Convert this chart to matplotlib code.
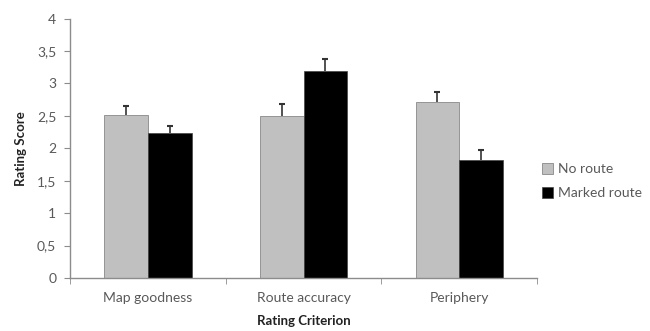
import matplotlib
matplotlib.use("Agg")
import matplotlib.pyplot as plt
import numpy as np

# data
categories = ["Map goodness", "Route accuracy", "Periphery"]
no_route = [2.52, 2.49, 2.72]
no_route_err = [0.13, 0.20, 0.15]
marked_route = [2.23, 3.19, 1.82]
marked_route_err = [0.12, 0.18, 0.15]
y_ticks = [0, 0.5, 1, 1.5, 2, 2.5, 3, 3.5, 4]
y_tick_labels = ["0", "0,5", "1", "1,5", "2", "2,5", "3", "3,5", "4"]

plt.rcParams['font.family'] = ['Lato', 'DejaVu Sans']

fig = plt.figure(figsize=(6.5, 3.31), dpi=100)
ax = fig.add_axes([0.108, 0.16, 0.718, 0.784])

x = np.arange(len(categories))
w = 0.28
spine_col = "#8c8c8c"
text_col = "#595959"

ax.bar(x - w / 2, no_route, w, color="#c0c0c0", edgecolor="#777777",
       linewidth=0.5, label="No route", zorder=2)
ax.bar(x + w / 2, marked_route, w, color="black", edgecolor="#444444",
       linewidth=0.5, label="Marked route", zorder=2)

# upper error bars only
for xs, vals, errs in [(x - w / 2, no_route, no_route_err),
                       (x + w / 2, marked_route, marked_route_err)]:
    _, caps, _ = ax.errorbar(xs, vals, yerr=[np.zeros(3), errs], fmt="none",
                             ecolor="#333333", elinewidth=1.2, capsize=2.5,
                             capthick=1.5, zorder=3)
    caps[0].set_visible(False)

ax.set_xlim(-0.5, 2.5)
ax.set_ylim(0, 4)
ax.set_yticks(y_ticks)
ax.set_yticklabels(y_tick_labels)
ax.set_xticks(x)
ax.set_xticklabels(categories)
ax.set_xticks([-0.5, 0.5, 1.5, 2.5], minor=True)

for s in ["top", "right"]:
    ax.spines[s].set_visible(False)
for s in ["left", "bottom"]:
    ax.spines[s].set_color(spine_col)
    ax.spines[s].set_linewidth(1)

ax.tick_params(axis="y", colors=spine_col, labelcolor=text_col, labelsize=10,
               length=4, direction="out", pad=6)
ax.tick_params(axis="x", which="major", length=0, labelcolor=text_col,
               labelsize=10, pad=10)
ax.tick_params(axis="x", which="minor", length=4, color=spine_col, direction="out")

ax.set_ylabel("Rating Score", fontsize=9.5, fontweight="bold", color="#222222",
              labelpad=7)
ax.set_xlabel("Rating Criterion", fontsize=9.5, fontweight="bold", color="#222222",
              labelpad=8)

fig.legend(loc="upper left", bbox_to_anchor=(0.815, 0.545), frameon=False,
           fontsize=10, labelcolor=text_col, handlelength=0.8, handleheight=0.8,
           handletextpad=0.3, labelspacing=0.85)

fig.savefig("out.png", dpi=100)
